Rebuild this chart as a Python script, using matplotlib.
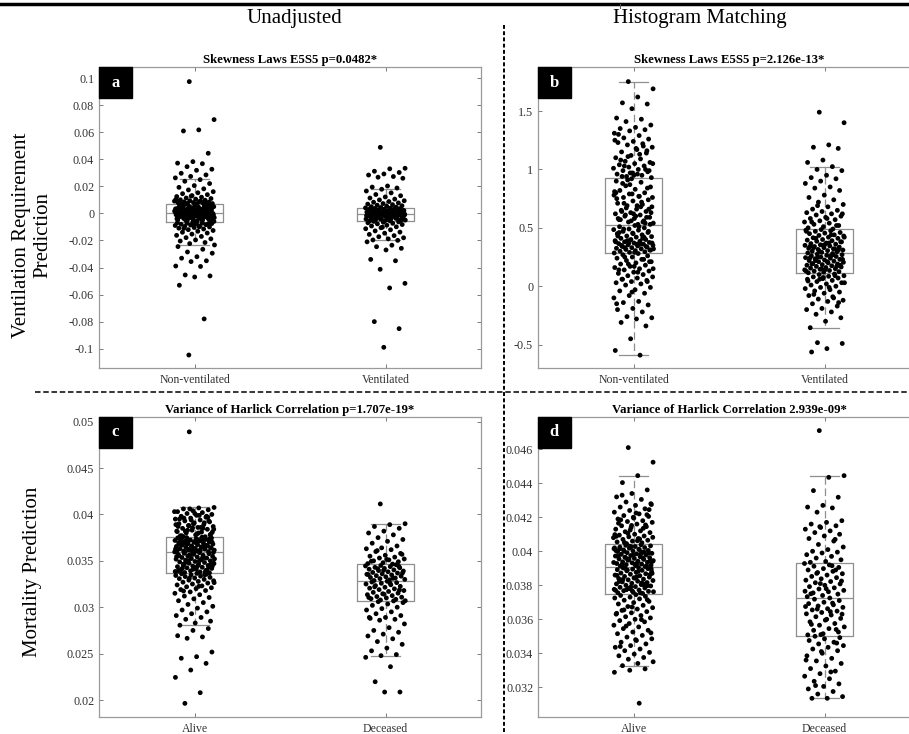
import numpy as np
import matplotlib
matplotlib.use("Agg")
import matplotlib.pyplot as plt
from matplotlib.lines import Line2D
from matplotlib.patches import Rectangle
from matplotlib.ticker import FormatStrFormatter

plt.rcParams['font.family'] = ['Liberation Serif', 'DejaVu Serif']
plt.rcParams['axes.unicode_minus'] = False

vent_labels = ["Non-ventilated", "Ventilated"]
mort_labels = ["Alive", "Deceased"]

# panel a: skewness, unadjusted (values in units of 1e-3)
a_nonvent = [
    97.5, 69.4, 61.8, 61.0, 44.5, 38.3, 37.2, 36.8, 34.6, 32.7, 31.9, 29.7, 28.5, 27.4, 26.3,
    25.0, 23.8, 22.1, 20.6, 19.3, 18.2, 17.4, 16.1, 15.3, 14.6, 13.9, 13.2, 12.5, 12.0, 11.4,
    11.0, 10.6, 10.1, 9.8, 9.4, 9.1, 8.8, 8.6, 8.3, 8.1, 7.9, 7.7, 7.5, 7.3, 7.2, 7.0, 6.9,
    12.8, 10.3, 9.0,
    6.7, 6.4, 6.1, 5.9, 5.6, 5.2, 5.0, 4.7, 4.5, 4.1, 3.9, 3.6, 3.2, 3.0, 2.7, 2.4, 2.2, 1.9,
    1.6, 1.3, 1.1, 0.8, 0.6, 0.4, 0.3, 0.2, 0.1, 0.0, -0.2, -0.4, -0.5, -0.7, -0.9, -1.2,
    -1.5, -1.8, -2.0, -2.3, -2.6, -2.9, -3.1, -3.4, -3.7, -4.0, -4.3, -4.6, -4.9, -5.3, -5.7,
    -6.1, 6.3, 5.4, 4.3, 3.4, 2.9, 2.1, 1.5, 0.9, 0.5, -0.1, -0.6, -1.1, -1.6, -2.2, -2.8,
    -3.3, -3.9, -4.5, -5.1, -6.4, 5.8, 4.9, 3.8, 2.6, 1.8, 1.0, 0.2, -0.3, -1.0, -1.9, -2.7,
    -3.6, -4.4, -5.5, 6.5, 3.1, 0.7, -0.8, -2.4, -4.8, 5.1, 2.5, 0.0, -1.4, -3.0, -5.9, 4.0,
    1.2, -2.1, -6.3,
    -6.8, -7.0, -7.2, -7.5, -7.7, -8.0, -8.3, -8.6, -8.9, -9.2, -9.6, -10.0, -10.4, -10.9,
    -11.5, -12.0, -12.6, -13.2, -13.9, -14.5, -15.3, -16.2, -17.0, -17.9, -18.8, -19.6,
    -20.4, -21.5, -22.3, -23.3, -9.9, -11.1, -7.4, -8.5,
    -24.5, -26.5, -28.5, -29.4, -32.0, -33.1, -35.0, -35.6, -38.9, -39.2, -45.5, -46.2,
    -47.0, -53.1, -78.0, -104.7,
]
a_vent = [
    48.9, 33.4, 33.0, 31.2, 30.3, 29.2, 28.4, 27.3, 26.8, 26.0, 20.3, 19.5, 18.8,
    17.9, 16.6, 15.2, 14.0, 13.1, 12.2, 11.4, 10.6, 10.0, 9.4, 8.8, 8.3, 7.8, 7.3, 6.9,
    6.5, 6.1, 5.7, 5.4, 5.0, 4.7, 4.4, 4.1, 3.9,
    3.7, 3.5, 3.2, 3.0, 2.7, 2.5, 2.2, 2.0, 1.7, 1.5, 1.2, 1.0, 0.8, 0.5, 0.3, 0.1, -0.1,
    -0.3, -0.4, -0.6, -0.8, -1.0, -1.3, -1.5, -1.8, -2.0, -2.3, -2.6, -2.9, -3.2, -3.5,
    -3.8, -4.1, -4.4, -4.7, -5.0, -5.3, -5.6, 3.4, 2.8, 2.1, 1.4, 0.9, 0.2, -0.2, -0.5,
    -0.9, -1.4, -1.9, -2.5, -3.0, -3.6, -4.2, -4.9, -5.5, 3.1, 1.8, 0.6, -0.4, -1.1, -2.1,
    -3.3, -4.5, 2.4, 0.4, -0.7, -1.6, -2.8, -3.9, -5.2, 1.1, -0.4, -2.2, 0.0, -1.2, -3.4,
    -5.9, -6.2, -6.5, -6.9, -7.3, -7.7, -8.2, -8.7, -9.3, -9.9, -10.6, -11.3, -12.1, -12.9,
    -13.8, -14.6, -15.5, -16.4, -17.2, -18.0, -18.8, -19.6, -19.9, -10.2,
    -21.0, -23.5, -24.6, -25.8, -27.0, -34.0, -35.0, -41.3, -51.7, -55.1, -80.0, -85.2, -99.0,
]
a_lo = [-23.3, -19.9]
a_q1 = [-6.6, -5.8]
a_med = [0.3, -0.4]
a_q3 = [6.8, 3.8]
a_hi = [25.3, 17.9]
a_yticks = [-0.1, -0.08, -0.06, -0.04, -0.02, 0, 0.02, 0.04, 0.06, 0.08, 0.1]

# panel b: skewness, histogram matching
b_nonvent = [
    1.752, 1.69, 1.62, 1.57, 1.56, 1.52, 1.44, 1.43, 1.41, 1.38, 1.36, 1.35, 1.34, 1.33,
    1.31, 1.29, 1.27, 1.26, 1.24, 1.23, 1.22, 1.21, 1.19, 1.17, 1.15, 1.14, 1.12, 1.10,
    1.09, 1.07, 1.06, 1.05, 1.04, 1.03, 1.02, 1.01, 1.00, 0.99, 0.98, 0.97, 0.96, 0.95,
    0.94, 0.93, 1.18, 1.08, 1.00, 0.97, 1.25, 1.13, 1.03, 0.99, 0.95, 1.30, 1.20, 1.11,
    1.05, 0.96, 0.94, 1.16,
    0.92, 0.90, 0.89, 0.86, 0.85, 0.83, 0.82, 0.80, 0.79, 0.78, 0.77, 0.76, 0.74, 0.73,
    0.71, 0.70, 0.69, 0.68, 0.66, 0.65, 0.64, 0.63, 0.62, 0.61, 0.60, 0.59, 0.58, 0.57,
    0.56, 0.55, 0.54, 0.53, 0.88, 0.84, 0.79, 0.75, 0.72, 0.67, 0.63, 0.60, 0.57, 0.54,
    0.87, 0.81, 0.77, 0.71, 0.66, 0.62, 0.58, 0.55, 0.91, 0.76, 0.69, 0.64, 0.59, 0.56,
    0.80, 0.68, 0.61, 0.53,
    0.52, 0.51, 0.50, 0.49, 0.485, 0.48, 0.47, 0.46, 0.455, 0.45, 0.44, 0.43, 0.425, 0.42,
    0.41, 0.40, 0.395, 0.39, 0.385, 0.38, 0.375, 0.37, 0.365, 0.36, 0.355, 0.35, 0.345,
    0.34, 0.335, 0.33, 0.325, 0.32, 0.315, 0.31, 0.305, 0.30, 0.295, 0.29, 0.285, 0.51,
    0.49, 0.47, 0.45, 0.43, 0.41, 0.39, 0.37, 0.36, 0.35, 0.34, 0.40, 0.38, 0.36, 0.33,
    0.31, 0.29, 0.46, 0.42, 0.37, 0.32,
    0.28, 0.27, 0.26, 0.25, 0.24, 0.23, 0.22, 0.21, 0.20, 0.19, 0.18, 0.17, 0.16, 0.15,
    0.14, 0.13, 0.12, 0.11, 0.10, 0.09, 0.08, 0.07, 0.06, 0.05, 0.04, 0.03, 0.02, 0.01,
    -0.01, -0.03, -0.04, -0.06, -0.08, -0.10, -0.13, -0.14, -0.16, -0.19, -0.20, -0.22,
    -0.26, -0.27, -0.28, -0.31, -0.34, -0.45, -0.55, -0.59, 0.25, 0.21, 0.17, 0.14, 0.23,
    0.19, 0.15, 0.12, 0.06, 0.04, -0.05, -0.15,
]
b_vent = [
    1.49, 1.40, 1.21, 1.19, 1.18, 1.08, 1.06,
    1.024, 1.00, 0.99, 0.95, 0.93, 0.92, 0.90, 0.88, 0.85, 0.84, 0.82, 0.78, 0.76, 0.74,
    0.72, 0.70, 0.68, 0.66, 0.65, 0.64, 0.63, 0.62, 0.61, 0.60, 0.59, 0.58, 0.57, 0.56,
    0.55, 0.54, 0.53, 0.52, 0.51, 0.50, 0.49, 0.69, 0.62, 0.58, 0.55, 0.52,
    0.485, 0.48, 0.475, 0.47, 0.46, 0.455, 0.45, 0.44, 0.435, 0.43, 0.42, 0.415, 0.41,
    0.40, 0.395, 0.39, 0.385, 0.38, 0.37, 0.365, 0.36, 0.355, 0.35, 0.345, 0.34, 0.335,
    0.33, 0.325, 0.32, 0.315, 0.31, 0.305, 0.30, 0.295, 0.29, 0.47, 0.44, 0.41, 0.38,
    0.36, 0.34, 0.32, 0.30, 0.42, 0.37, 0.33, 0.31, 0.35,
    0.285, 0.28, 0.275, 0.27, 0.265, 0.26, 0.255, 0.25, 0.245, 0.24, 0.235, 0.23, 0.225,
    0.22, 0.215, 0.21, 0.205, 0.20, 0.195, 0.19, 0.185, 0.18, 0.175, 0.17, 0.165, 0.16,
    0.155, 0.15, 0.145, 0.14, 0.135, 0.13, 0.125, 0.12, 0.115, 0.27, 0.25, 0.23, 0.21,
    0.19, 0.17, 0.15, 0.13, 0.26, 0.22, 0.18, 0.14, 0.24,
    0.105, 0.10, 0.09, 0.085, 0.08, 0.07, 0.065, 0.06, 0.05, 0.04, 0.03, 0.02, 0.01, 0.00,
    -0.01, -0.02, -0.03, -0.04, -0.05, -0.06, -0.08, -0.10, -0.11, -0.12, -0.13, -0.15,
    -0.17, -0.19, -0.20, -0.22, -0.24, -0.27, -0.30, -0.355, 0.09, 0.06, 0.03, -0.01,
    -0.07, -0.14, 0.075, 0.045, -0.09, -0.483, -0.49, -0.534, -0.563,
]
b_lo = [-0.59, -0.355]
b_q1 = [0.283, 0.111]
b_med = [0.525, 0.288]
b_q3 = [0.925, 0.488]
b_hi = [1.752, 1.024]
b_yticks = [-0.5, 0, 0.5, 1, 1.5]

# panel c: variance of Haralick correlation, unadjusted (units of 1e-3)
c_alive = [
    48.9, 40.75, 40.7, 40.6, 40.5, 40.4, 40.3, 40.2, 40.1, 40.0, 39.9, 39.8, 39.7, 39.6,
    39.5, 39.4, 39.3, 39.2, 39.1, 39.0, 38.9, 38.8, 38.7, 38.6, 38.5, 38.4, 38.3, 38.2,
    38.1, 38.0, 37.9, 37.8, 37.7, 37.6, 40.6, 40.3, 39.9, 39.6, 39.3, 39.0, 38.7, 38.5,
    38.3, 38.1, 37.9, 37.7, 39.8, 39.4, 38.9, 38.6, 38.2, 37.8, 40.1, 39.5, 39.1, 38.8,
    38.4, 38.0, 37.6, 39.7, 38.55, 38.15,
    37.55, 37.5, 37.45, 37.4, 37.35, 37.3, 37.25, 37.2, 37.15, 37.1, 37.05, 37.0, 36.95,
    36.9, 36.85, 36.8, 36.75, 36.7, 36.65, 36.6, 36.55, 36.5, 36.45, 36.4, 36.35, 36.3,
    36.25, 36.2, 36.15, 36.1, 36.05, 36.0, 35.95, 37.48, 37.32, 37.18, 37.02, 36.88,
    36.72, 36.58, 36.42, 36.28, 36.12, 35.98, 37.38, 37.08, 36.78, 36.48, 36.18, 35.92,
    37.22, 36.92, 36.62, 36.32, 36.02, 37.42, 36.82, 36.38, 36.08, 37.12, 36.68, 36.22,
    35.96,
    35.88, 35.81, 35.77, 35.7, 35.66, 35.6, 35.52, 35.49, 35.41, 35.36, 35.3, 35.24, 35.18,
    35.11, 35.07, 35.0, 34.93, 34.88, 34.82, 34.74, 34.7, 34.63, 34.55, 34.5, 34.44, 34.37,
    34.31, 34.25, 34.18, 34.12, 34.05, 33.98, 33.92, 33.85, 33.8, 33.74, 33.7, 35.84,
    35.57, 35.33, 35.03, 34.79, 34.47, 34.21, 33.95, 35.72, 35.45, 35.14, 34.85, 34.58,
    34.28, 34.01, 33.77, 35.63, 35.21, 34.97, 34.66, 34.34, 34.09, 33.88, 35.39, 34.91,
    34.4,
    33.65, 33.6, 33.55, 33.48, 33.42, 33.35, 33.3, 33.22, 33.15, 33.08, 33.0, 32.92, 32.85,
    32.78, 32.7, 32.6, 32.5, 32.4, 32.3, 32.2, 32.1, 32.0, 31.9, 31.8, 31.65, 31.5, 31.35,
    31.2, 31.05, 30.9, 30.7, 30.5, 30.3, 30.1, 29.9, 29.7, 29.5, 29.3, 29.1, 28.9, 28.7,
    28.5, 28.3, 28.06, 33.5, 33.12, 32.65, 32.25, 31.75,
    27.7, 27.5, 26.93, 26.8, 26.65, 25.17, 24.67, 24.5, 23.95, 23.23, 22.44, 20.79, 19.64,
]
c_dec = [
    41.13, 39.0, 38.9, 38.7, 38.5, 38.2, 38.0, 37.8, 37.5, 37.3, 37.1, 36.9, 36.6, 36.4,
    36.3, 36.2, 36.0, 35.8, 35.6, 35.5, 35.4, 35.3, 35.2, 35.1, 35.0, 34.9, 34.8, 34.7,
    34.65, 36.1, 35.7, 35.15, 34.95,
    34.58, 34.5, 34.45, 34.38, 34.3, 34.25, 34.18, 34.1, 34.02, 33.95, 33.9, 33.82, 33.75,
    33.68, 33.6, 33.55, 33.48, 33.4, 33.35, 33.28, 33.2, 33.15, 33.08, 33.0, 32.95, 32.88,
    34.4, 33.98, 33.52, 33.12, 34.15, 33.7,
    32.8, 32.72, 32.65, 32.58, 32.5, 32.42, 32.33, 32.25, 32.15, 32.05, 31.98, 31.9, 31.8,
    31.7, 31.6, 31.52, 31.45, 31.35, 31.25, 31.15, 31.08, 31.0, 30.92, 30.85, 30.78, 30.7,
    32.6, 32.2, 31.85, 31.4, 31.05, 30.68,
    30.6, 30.5, 30.35, 30.2, 30.0, 29.85, 29.7, 29.5, 29.3, 29.1, 28.9, 28.8, 28.7, 28.6,
    28.2, 27.8, 27.5, 27.3, 27.1, 26.9, 26.6, 26.3, 26.0, 25.6, 25.3, 24.9, 24.78, 24.6,
    23.59, 21.97, 20.86, 20.86, 28.9,
]
c_lo = [28.06, 24.78]
c_q1 = [33.69, 30.65]
c_med = [35.9, 32.83]
c_q3 = [37.57, 34.61]
c_hi = [40.75, 39.0]
c_yticks = [0.02, 0.025, 0.03, 0.035, 0.04, 0.045, 0.05]

# panel d: variance of Haralick correlation, histogram matching (units of 1e-3)
d_alive = [
    46.1, 45.24, 44.45, 44.04, 43.61, 43.4, 43.2, 43.05, 42.9, 42.8, 42.7, 42.6, 42.5, 42.4,
    42.3, 42.2, 42.1, 42.05, 42.0, 41.9, 41.8, 41.75, 41.7, 41.6, 41.5, 41.45, 41.4, 41.3,
    41.2, 41.15, 41.1, 41.0, 40.95, 40.9, 40.85, 40.8, 40.75, 40.7, 40.65, 40.6, 40.55,
    40.5, 40.45, 42.75, 42.25, 41.85, 41.55, 41.25, 40.98, 40.72, 40.52, 42.45, 41.95,
    41.65, 41.35, 41.05, 40.82, 40.62, 43.3, 42.15, 41.52, 40.88,
    40.38, 40.35, 40.32, 40.28, 40.25, 40.22, 40.18, 40.15, 40.12, 40.08, 40.05, 40.02,
    39.98, 39.95, 39.92, 39.88, 39.85, 39.82, 39.78, 39.75, 39.72, 39.68, 39.65, 39.62,
    39.58, 39.55, 39.52, 39.48, 39.45, 39.42, 39.38, 39.35, 39.32, 39.28, 39.25, 39.22,
    39.18, 39.15, 39.12, 39.1, 40.3, 40.2, 40.1, 40.0, 39.9, 39.8, 39.7, 39.6, 39.5, 39.4,
    39.3, 39.2, 39.14, 40.26, 40.04, 39.84, 39.64, 39.44, 39.24, 40.14, 39.94, 39.54, 39.34,
    39.05, 39.02, 38.98, 38.95, 38.92, 38.88, 38.85, 38.8, 38.76, 38.72, 38.68, 38.65,
    38.6, 38.56, 38.52, 38.48, 38.44, 38.4, 38.36, 38.32, 38.28, 38.24, 38.2, 38.16,
    38.12, 38.08, 38.04, 38.0, 37.96, 37.92, 37.88, 37.84, 37.8, 37.76, 37.72, 37.68,
    37.64, 37.6, 37.56, 37.52, 38.9, 38.7, 38.5, 38.3, 38.1, 37.9, 37.7, 37.55, 39.0,
    38.62, 38.42, 38.22, 38.02, 37.82, 37.62, 38.82, 38.34, 37.98, 37.66, 38.58, 38.14,
    37.74, 38.96,
    37.45, 37.4, 37.35, 37.3, 37.25, 37.2, 37.12, 37.05, 36.98, 36.9, 36.82, 36.75, 36.68,
    36.6, 36.52, 36.45, 36.38, 36.3, 36.22, 36.15, 36.08, 36.0, 35.92, 35.85, 35.75, 35.65,
    35.55, 35.45, 35.35, 35.25, 35.15, 35.05, 34.95, 34.85, 34.75, 34.65, 34.55, 34.45,
    34.35, 34.25, 34.15, 34.05, 33.95, 33.85, 33.75, 33.65, 33.5, 33.4, 33.27, 37.15,
    36.72, 36.35, 35.98, 35.6, 35.2, 34.8, 34.4, 33.08, 33.0, 32.88, 31.06, 36.55,
]
d_dec = [
    47.1, 44.45, 44.35, 43.57, 43.18, 42.7, 42.6, 42.55, 42.3, 41.8, 41.7, 41.6, 41.5,
    41.4, 41.3, 41.2, 41.1, 41.0, 40.9, 40.75, 40.6, 40.4, 40.25, 40.1, 40.0, 39.95, 39.9,
    39.8, 39.7, 39.6, 39.5, 39.4, 39.35, 40.7, 41.45,
    39.28, 39.2, 39.12, 39.05, 38.98, 38.9, 38.82, 38.75, 38.68, 38.6, 38.52, 38.45, 38.38,
    38.3, 38.22, 38.15, 38.08, 38.0, 37.92, 37.85, 37.78, 37.7, 37.62, 37.55, 37.48, 37.4,
    37.33, 39.15, 38.7, 38.25, 37.8, 37.5, 38.9, 38.1, 37.65,
    37.25, 37.18, 37.1, 37.0, 36.92, 36.85, 36.78, 36.7, 36.62, 36.55, 36.48, 36.4, 36.32,
    36.25, 36.15, 36.05, 35.95, 35.85, 35.75, 35.65, 35.55, 35.45, 35.35, 35.25, 35.15,
    35.08, 36.95, 36.6, 36.3, 36.0, 35.7, 35.4, 35.1, 36.75, 36.45,
    35.0, 34.92, 34.85, 34.75, 34.65, 34.55, 34.45, 34.35, 34.25, 34.15, 34.0, 33.85, 33.7,
    33.55, 33.4, 33.25, 33.1, 32.95, 32.8, 32.65, 32.5, 32.35, 32.2, 32.05, 31.9, 31.75,
    31.6, 31.45, 31.35, 31.35, 34.6, 34.1, 33.6, 32.9, 32.1,
]
d_lo = [33.27, 31.35]
d_q1 = [37.49, 35.04]
d_med = [39.08, 37.28]
d_q3 = [40.4, 39.32]
d_hi = [44.45, 44.45]
d_yticks = [0.032, 0.034, 0.036, 0.038, 0.04, 0.042, 0.044, 0.046]

GRAY = '#8f8f8f'


def jitter(n, pos, half=0.105):
    k = np.arange(n)
    return pos + half * (2 * ((k * 0.6180339887 + 0.37) % 1.0) - 1)


def draw_panel(ax, groups, scale, lo, q1, med, q3, hi, labels, ylim, yticks, title, letter):
    stats = []
    for i in range(2):
        stats.append(dict(whislo=lo[i] * scale, q1=q1[i] * scale, med=med[i] * scale,
                          q3=q3[i] * scale, whishi=hi[i] * scale, fliers=[]))
    ax.bxp(stats, positions=[1, 2], widths=0.3, capwidths=0.15, showfliers=False,
           boxprops=dict(color=GRAY, lw=0.9),
           medianprops=dict(color=GRAY, lw=0.9),
           whiskerprops=dict(color=GRAY, lw=0.9, ls=(0, (6, 3))),
           capprops=dict(color=GRAY, lw=0.9))
    for i, vals in enumerate(groups):
        v = np.array(vals) * scale
        ax.scatter(jitter(len(v), i + 1), v, s=12, color='black', edgecolors='none', zorder=3)
    ax.set_xlim(0.5, 2.5)
    ax.set_ylim(*ylim)
    ax.set_yticks(yticks)
    ax.yaxis.set_major_formatter(FormatStrFormatter('%g'))
    ax.set_xticks([1, 2])
    ax.set_xticklabels(labels)
    ax.tick_params(direction='in', top=True, right=True, length=3, width=0.7,
                   color='#7a7a7a', labelcolor='#333333', labelsize=8.7)
    ax.tick_params(axis='x', pad=4, labelsize=8.5)
    for sp in ax.spines.values():
        sp.set_color('#9a9a9a')
        sp.set_linewidth(0.9)
    ax.set_title(title, fontsize=9.2, fontweight='bold', pad=3)
    ax.add_patch(Rectangle((0, 1 - 0.103), 0.0864, 0.103, transform=ax.transAxes,
                           color='black', zorder=5, clip_on=False))
    ax.text(0.043, 1 - 0.0515, letter, transform=ax.transAxes, color='white',
            fontsize=12, fontweight='bold', ha='center', va='center', zorder=6)


fig = plt.figure(figsize=(9.09, 7.34), dpi=100)
W, H = 909.0, 734.0


def px_axes(left, top, right, bottom):
    return fig.add_axes([left / W, 1 - bottom / H, (right - left) / W, (bottom - top) / H])


ax_a = px_axes(99, 67, 481, 368)
ax_b = px_axes(538, 67, 920, 368)
ax_c = px_axes(99, 417, 481, 717)
ax_d = px_axes(538, 417, 920, 717)

draw_panel(ax_a, [a_nonvent, a_vent], 1e-3, a_lo, a_q1, a_med, a_q3, a_hi, vent_labels,
           (-0.1143, 0.1083), a_yticks, "Skewness Laws E5S5 p=0.0482*", "a")
draw_panel(ax_b, [b_nonvent, b_vent], 1.0, b_lo, b_q1, b_med, b_q3, b_hi, vent_labels,
           (-0.70, 1.877), b_yticks, "Skewness Laws E5S5 p=2.126e-13*", "b")
draw_panel(ax_c, [c_alive, c_dec], 1e-3, c_lo, c_q1, c_med, c_q3, c_hi, mort_labels,
           (0.01817, 0.0505), c_yticks, "Variance of Harlick Correlation p=1.707e-19*", "c")
draw_panel(ax_d, [d_alive, d_dec], 1e-3, d_lo, d_q1, d_med, d_q3, d_hi, mort_labels,
           (0.03025, 0.0479), d_yticks, "Variance of Harlick Correlation 2.939e-09*", "d")

# column headers and row labels
fig.text(294 / W, 1 - 18 / H, "Unadjusted", fontsize=15, ha='center', va='center')
fig.text(700 / W, 1 - 18 / H, "Histogram Matching", fontsize=15, ha='center', va='center')
fig.text(32 / W, 1 - 235 / H, "Ventilation Requirement\nPrediction", fontsize=15,
         rotation=90, ha='center', va='center', multialignment='center')
fig.text(33 / W, 1 - 572 / H, "Mortality Prediction", fontsize=15,
         rotation=90, ha='center', va='center')

# separators
fig.add_artist(Line2D([0, 1], [1 - 4 / H, 1 - 4 / H], transform=fig.transFigure,
                      color='black', lw=2.5))
fig.add_artist(Line2D([620 / W, 620 / W], [1 - 4 / H, 1 - 8 / H], transform=fig.transFigure,
                      color='#555555', lw=0.7))
fig.add_artist(Line2D([35 / W, 1], [1 - 392 / H, 1 - 392 / H], transform=fig.transFigure,
                      color='black', lw=1.1, ls=(0, (3.6, 1.8))))
fig.add_artist(Line2D([504 / W, 504 / W], [1 - 25 / H, 0], transform=fig.transFigure,
                      color='black', lw=1.4, ls=(0, (2.0, 1.2))))

fig.savefig("out.png", dpi=100)
